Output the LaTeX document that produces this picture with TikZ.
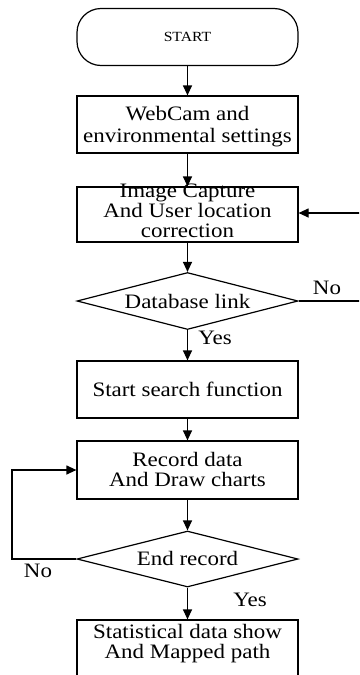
\documentclass[tikz,border=0pt]{standalone}
\usepackage{fontspec}
\setmainfont{Liberation Serif}[FakeStretch=1.12]
\usetikzlibrary{shapes.geometric,arrows.meta}
\begin{document}
\begin{tikzpicture}[x=1pt,y=-1pt,
  shp/.style={draw,line width=1.2pt,inner sep=0pt,minimum width=221pt},
  boxs/.style={shp,rectangle},
  dia/.style={shp,diamond,minimum height=57pt},
  term/.style={shp,rectangle,rounded corners=24pt,minimum height=57pt},
  txt/.style={inner sep=0pt,align=center,font=\fontsize{20.5}{20}\selectfont},
  lbl/.style={inner sep=0pt,font=\fontsize{20.5}{20}\selectfont},
  conn/.style={line width=1.2pt,-{Triangle[length=10pt,width=9pt]}},
  line/.style={line width=1.2pt}]
\useasboundingbox (0,0) rectangle (359,675);
\clip (0,0) rectangle (359,675);
% shapes
\node[term] (st) at (187.5,37) {};
\node[inner sep=0pt,font=\fontsize{14}{14}\selectfont] (stt) at (187.5,37) {START};
\node[boxs,minimum height=57pt] (b1) at (187.5,124.5) {};
\node[txt] (b1t) at (187.5,127) {WebCam and\\[2pt]environmental settings};
\node[boxs,minimum height=55pt] (b2) at (187.5,214.5) {};
\node[txt] (b2t) at (187.5,211) {Image Capture\\And User location\\correction};
\node[dia] (d1) at (187.5,301) {};
\node[txt] (d1t) at (187.5,301) {Database link};
\node[boxs,minimum height=57pt] (b3) at (187.5,389.5) {};
\node[txt] (b3t) at (187.5,389) {Start search function};
\node[boxs,minimum height=58pt] (b4) at (187.5,470) {};
\node[txt] (b4t) at (187.5,469) {Record data\\And Draw charts};
\node[dia,minimum height=56pt] (d2) at (187.5,559) {};
\node[txt] (d2t) at (187.5,558.5) {End record};
\node[boxs,minimum height=60pt] (b5) at (187.5,650) {};
\node[txt] (b5t) at (187.5,643.5) {Statistical data show\\And Mapped path};
% labels
\node[lbl] (no1) at (327,288) {No};
\node[lbl] (yes1) at (215,338) {Yes};
\node[lbl] (no2) at (38,571) {No};
\node[lbl] (yes2) at (250,600) {Yes};
% connectors
\coordinate (rc) at (364,301);
\coordinate (lc) at (12,559);
\draw[conn] (st) -- (b1);
\draw[conn] (b1) -- (b2);
\draw[conn] (b2) -- (d1);
\draw[conn] (d1) -- (b3);
\draw[conn] (b3) -- (b4);
\draw[conn] (b4) -- (d2);
\draw[conn] (d2) -- (b5);
\draw[conn] (d1.east) -- (rc) -- (rc |- 0,213) -- (b2.east |- 0,213);
\draw[conn] (d2.west) -- (lc) |- (b4.west);
\end{tikzpicture}
\end{document}
